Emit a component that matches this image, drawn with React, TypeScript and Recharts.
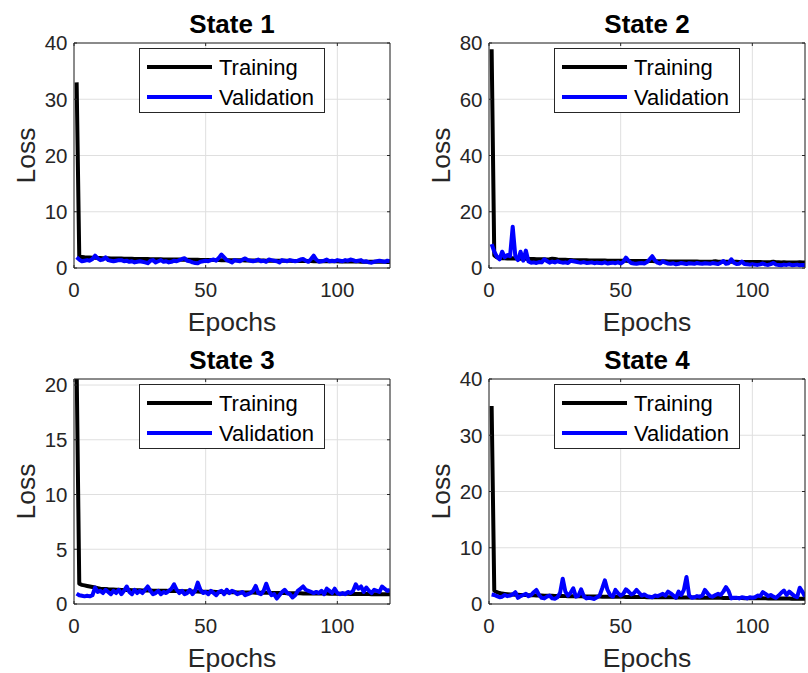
import React from 'react';
import { LineChart, Line, XAxis, YAxis, CartesianGrid, Legend } from 'recharts';

const EPOCH_TICKS = [0, 50, 100];
const TITLES = ['State 1', 'State 2', 'State 3', 'State 4'];
const Y_MAX = [40, 80, 20.55, 40];
const Y_TICKS_1 = [0, 10, 20, 30, 40];
const Y_TICKS_2 = [0, 20, 40, 60, 80];
const Y_TICKS_3 = [0, 5, 10, 15, 20];
const Y_TICKS_4 = [0, 10, 20, 30, 40];

const TRAIN_1 = [
  33, 2.0, 1.95, 1.9, 1.88, 1.85, 1.82, 1.8, 1.78, 1.76,
  1.75, 1.74, 1.72, 1.71, 1.7, 1.69, 1.68, 1.67, 1.66, 1.65,
  1.64, 1.63, 1.62, 1.61, 1.6, 1.6, 1.59, 1.58, 1.57, 1.56,
  1.55, 1.55, 1.54, 1.53, 1.52, 1.52, 1.51, 1.5, 1.5, 1.49,
  1.48, 1.48, 1.47, 1.46, 1.46, 1.45, 1.45, 1.44, 1.43, 1.43,
  1.42, 1.42, 1.41, 1.41, 1.4, 1.4, 1.39, 1.39, 1.38, 1.38,
  1.37, 1.37, 1.36, 1.36, 1.35, 1.35, 1.34, 1.34, 1.33, 1.33,
  1.32, 1.32, 1.31, 1.31, 1.3, 1.3, 1.29, 1.29, 1.28, 1.28,
  1.27, 1.27, 1.26, 1.26, 1.25, 1.25, 1.24, 1.24, 1.23, 1.23,
  1.22, 1.22, 1.21, 1.21, 1.2, 1.2, 1.19, 1.19, 1.18, 1.18,
  1.17, 1.17, 1.16, 1.16, 1.15, 1.15, 1.14, 1.14, 1.13, 1.13,
  1.12, 1.12, 1.11, 1.11, 1.1, 1.1, 1.09, 1.09, 1.08, 1.08,
];
const VAL_1 = [
  1.9, 1.5, 1.2, 1.3, 1.4, 1.3, 1.6, 2.2, 1.7, 1.4,
  1.5, 1.9, 1.4, 1.3, 1.2, 1.3, 1.4, 1.4, 1.2, 1.3,
  1.1, 1.2, 1.0, 1.1, 1.2, 1.1, 1.0, 0.85, 1.3, 1.4,
  1.0, 1.2, 1.4, 1.1, 1.2, 1.0, 1.1, 1.3, 1.2, 1.4,
  1.6, 1.75, 1.3, 1.2, 1.0, 0.9, 0.85, 1.1, 1.2, 1.3,
  1.2, 1.4, 1.5, 1.3, 1.8, 2.4, 1.9, 1.4, 1.2, 1.0,
  1.4, 1.3, 1.2, 1.5, 1.7, 1.4, 1.3, 1.2, 1.3, 1.5,
  1.2, 1.3, 1.1, 1.5, 1.4, 1.3, 1.2, 1.0, 1.4, 1.3,
  1.2, 1.4, 1.3, 1.2, 1.3, 1.5, 1.6, 1.3, 1.1, 1.6,
  2.2, 1.5, 1.1, 1.2, 1.3, 1.5, 1.2, 1.3, 1.2, 1.4,
  1.3, 1.2, 1.4, 1.3, 1.5, 1.4, 1.2, 1.3, 1.4, 1.1,
  1.2, 1.0, 0.95, 1.1, 1.2, 1.3, 1.2, 1.1, 1.3, 1.2,
];

const TRAIN_2 = [
  77.8, 4.5, 3.8, 3.6, 3.5, 3.5, 3.4, 3.4, 3.5, 3.4,
  3.3, 3.3, 3.4, 3.3, 3.2, 3.2, 3.2, 3.1, 3.1, 3.1,
  3.1, 3.0, 3.1, 3.3, 3.2, 3.0, 2.9, 2.9, 2.9, 2.85,
  2.85, 2.8, 2.8, 2.8, 2.75, 2.75, 2.75, 2.7, 2.7, 2.7,
  2.7, 2.65, 2.65, 2.65, 2.6, 2.6, 2.6, 2.6, 2.55, 2.55,
  2.55, 2.55, 2.5, 2.5, 2.5, 2.5, 2.5, 2.45, 2.45, 2.45,
  2.45, 2.45, 2.4, 2.4, 2.4, 2.4, 2.4, 2.35, 2.35, 2.35,
  2.35, 2.35, 2.35, 2.3, 2.3, 2.3, 2.3, 2.3, 2.3, 2.25,
  2.25, 2.25, 2.25, 2.25, 2.3, 2.4, 2.25, 2.2, 2.2, 2.2,
  2.2, 2.2, 2.2, 2.2, 2.15, 2.15, 2.15, 2.15, 2.1, 2.1,
  2.1, 2.1, 2.1, 2.05, 2.05, 2.05, 2.1, 2.2, 2.05, 2.05,
  2.0, 2.05, 2.0, 2.0, 1.95, 2.0, 2.0, 2.05, 2.0, 2.0,
];
const VAL_2 = [
  8.5, 5.8, 4.0, 3.1, 5.8, 3.8, 4.6, 4.2, 14.7, 4.2,
  2.8, 5.8, 2.6, 6.2, 2.3, 1.9, 2.0, 1.8, 2.1, 2.0,
  3.1, 2.5, 1.9, 2.3, 2.0, 2.4, 2.1, 1.9, 2.0, 1.8,
  2.6, 2.4, 2.2, 2.0, 1.9, 2.1, 1.8, 1.9, 2.0, 1.7,
  1.9, 1.8, 1.7, 2.0, 1.6, 1.8, 1.9, 1.7, 2.0, 1.6,
  2.2, 3.7, 2.6, 1.8, 1.6, 1.5, 1.7, 1.8, 1.6, 2.1,
  3.1, 4.2, 2.7, 1.9, 1.6, 2.4, 1.9, 1.6, 1.5, 1.7,
  1.3, 1.5, 1.8, 1.6, 1.4, 1.7, 1.6, 1.5, 1.8, 1.6,
  1.5, 1.7, 1.6, 1.5, 1.8, 1.6, 1.4, 1.9, 2.5, 1.5,
  1.7, 3.1, 1.9, 1.4, 1.5, 2.3, 1.4, 1.3, 1.2, 1.3,
  1.2, 1.1, 1.3, 1.6, 1.2, 1.1, 1.4, 1.8, 1.2, 1.1,
  1.0, 1.2, 1.1, 1.3, 1.0, 1.1, 1.2, 1.0, 1.1, 1.1,
];

const TRAIN_3 = [
  21.5, 1.85, 1.75, 1.7, 1.65, 1.6, 1.55, 1.5, 1.45, 1.4,
  1.38, 1.36, 1.34, 1.33, 1.32, 1.31, 1.3, 1.29, 1.28, 1.28,
  1.27, 1.26, 1.26, 1.25, 1.25, 1.24, 1.24, 1.23, 1.23, 1.22,
  1.22, 1.21, 1.21, 1.2, 1.2, 1.19, 1.19, 1.18, 1.18, 1.17,
  1.17, 1.16, 1.16, 1.15, 1.15, 1.14, 1.14, 1.13, 1.13, 1.12,
  1.12, 1.11, 1.11, 1.1, 1.1, 1.09, 1.09, 1.08, 1.08, 1.07,
  1.07, 1.06, 1.06, 1.05, 1.05, 1.04, 1.04, 1.04, 1.03, 1.03,
  1.03, 1.02, 1.02, 1.02, 1.01, 1.01, 1.01, 1.0, 1.0, 1.0,
  0.99, 0.99, 0.99, 0.98, 0.98, 0.98, 0.97, 0.97, 0.97, 0.96,
  0.96, 0.96, 0.95, 0.95, 0.95, 0.95, 0.94, 0.94, 0.94, 0.94,
  0.93, 0.93, 0.93, 0.93, 0.92, 0.92, 0.92, 0.92, 0.91, 0.91,
  0.91, 0.91, 0.9, 0.9, 0.9, 0.9, 0.9, 0.89, 0.89, 0.89,
];
const VAL_3 = [
  0.95, 0.8, 0.75, 0.7, 0.75, 0.7, 0.8, 1.5, 1.1, 1.2,
  1.0, 1.3, 1.1, 0.9, 1.2, 1.0, 1.3, 0.9, 1.2, 1.6,
  1.1, 0.9, 1.3, 1.0, 1.2, 1.0, 1.3, 1.6, 1.2, 0.9,
  1.0, 1.2, 0.9, 1.1, 1.0, 1.2, 1.4, 1.8, 1.3, 1.0,
  1.2, 0.9, 1.0, 1.3, 0.9, 1.2, 1.95, 1.3, 1.0, 1.1,
  0.9, 1.2, 1.0, 0.8, 1.1, 1.2, 0.9, 1.3, 1.0, 1.2,
  1.1, 0.9, 1.0, 1.1, 0.8, 0.9, 1.0, 1.2, 1.65, 1.0,
  0.9, 1.2, 1.85, 1.2, 0.8, 0.9, 0.5, 0.8, 1.1, 1.3,
  1.0, 0.9, 0.6, 0.8, 1.2, 1.4, 1.6, 1.3, 1.2, 1.1,
  1.0, 1.1, 1.0, 1.2, 0.9, 1.4, 1.2, 1.0, 1.4, 1.0,
  0.9, 1.0, 0.9, 1.1, 1.0, 1.2, 1.8, 1.4, 1.6, 1.1,
  1.5, 1.2, 1.0, 1.3, 1.2, 1.1, 1.6, 1.4, 1.2, 1.3,
];

const TRAIN_4 = [
  35.2, 2.4, 2.1, 1.95, 1.85, 1.8, 1.75, 1.7, 1.7, 1.65,
  1.65, 1.6, 1.6, 1.58, 1.56, 1.55, 1.54, 1.52, 1.5, 1.5,
  1.48, 1.47, 1.46, 1.45, 1.44, 1.43, 1.42, 1.41, 1.4, 1.4,
  1.39, 1.38, 1.37, 1.37, 1.36, 1.35, 1.35, 1.34, 1.33, 1.33,
  1.32, 1.32, 1.31, 1.3, 1.3, 1.29, 1.29, 1.28, 1.28, 1.27,
  1.27, 1.26, 1.26, 1.25, 1.25, 1.24, 1.24, 1.23, 1.23, 1.22,
  1.22, 1.21, 1.21, 1.2, 1.2, 1.2, 1.19, 1.19, 1.18, 1.18,
  1.17, 1.17, 1.16, 1.16, 1.15, 1.15, 1.14, 1.14, 1.13, 1.13,
  1.12, 1.12, 1.11, 1.11, 1.1, 1.1, 1.09, 1.09, 1.08, 1.08,
  1.07, 1.07, 1.06, 1.06, 1.05, 1.05, 1.04, 1.04, 1.03, 1.03,
  1.02, 1.02, 1.01, 1.01, 1.0, 1.0, 0.99, 0.99, 0.98, 0.98,
  0.97, 0.97, 0.96, 0.96, 0.95, 0.95, 0.94, 0.94, 0.93, 0.93,
];
const VAL_4 = [
  1.7, 1.6, 1.4, 1.2, 1.3, 1.6, 1.4, 1.5, 1.7, 2.1,
  1.1, 1.4, 1.6, 1.8, 1.4, 1.6, 2.1, 2.5, 1.6, 1.1,
  1.0, 1.3, 1.5, 1.0, 0.95, 1.2, 2.0, 4.5, 2.2, 1.5,
  2.0, 2.8, 1.3, 1.5, 2.6, 1.4, 1.0, 1.1, 1.0, 0.9,
  1.2, 1.5, 2.8, 4.2, 2.5, 1.6, 1.3, 2.5, 1.9, 1.5,
  1.8, 2.6, 2.2, 1.7, 1.9, 2.5, 2.0, 1.5, 1.7, 1.4,
  1.3, 1.2, 1.5, 1.4, 1.6, 1.8, 1.5, 2.2, 1.9, 1.5,
  1.1, 2.2, 1.6, 2.5, 4.8, 1.5, 1.1, 1.2, 1.4, 1.3,
  1.5, 2.5, 1.9, 1.4, 1.3, 1.6, 1.8, 1.6, 2.2, 3.0,
  2.3, 1.0, 1.1, 1.1, 1.0, 1.2, 1.1, 1.0, 1.2, 1.1,
  1.2, 1.5, 1.4, 2.1, 1.8, 1.4, 1.6, 1.3, 1.1, 1.5,
  2.0, 2.4, 1.6, 2.2, 1.8, 1.4, 1.2, 2.9, 2.2, 1.3,
];

const FONT = '"Liberation Sans", Arial, Helvetica, sans-serif';
const AXIS_COLOR = '#262626';
const GRID_COLOR = '#dfdfdf';

const PANEL_W = 404;
const PANEL_H = 336;
const PLOT_W = 316;
const PLOT_TOP = 43;
const PLOT_H = 225;

const BottomTick = (p: any) => (
  <g>
    <line x1={p.x} x2={p.x} y1={p.y} y2={p.y - 3} stroke={AXIS_COLOR} strokeWidth={1} />
    <text x={p.x} y={p.y + 29} textAnchor="middle" fontSize={20.5} fontFamily={FONT} fill={AXIS_COLOR}>
      {p.payload.value}
    </text>
  </g>
);
const TopTick = (p: any) => (
  <line x1={p.x} x2={p.x} y1={p.y} y2={p.y + 3} stroke={AXIS_COLOR} strokeWidth={1} />
);
const LeftTick = (p: any) => (
  <g>
    <line x1={p.x} x2={p.x + 3} y1={p.y} y2={p.y} stroke={AXIS_COLOR} strokeWidth={1} />
    <text x={p.x - 6.5} y={p.y + 7.3} textAnchor="end" fontSize={20.5} fontFamily={FONT} fill={AXIS_COLOR}>
      {p.payload.value}
    </text>
  </g>
);
const RightTick = (p: any) => (
  <line x1={p.x} x2={p.x - 3} y1={p.y} y2={p.y} stroke={AXIS_COLOR} strokeWidth={1} />
);

const LegendBox = (props: any) => {
  const items = props.payload || [];
  return (
    <svg width={186} height={65} style={{ display: 'block' }}>
      <rect x={0.5} y={0.5} width={185} height={64} fill="#ffffff" stroke={AXIS_COLOR} strokeWidth={1} />
      {items.map((it: any, i: number) => (
        <g key={i}>
          <line x1={8} x2={73} y1={19 + 30 * i} y2={19 + 30 * i} stroke={it.color} strokeWidth={4} />
          <text x={80} y={27 + 30 * i} fontSize={22} fontFamily={FONT} fill="#000000">
            {it.value}
          </text>
        </g>
      ))}
    </svg>
  );
};

type PanelProps = {
  title: string;
  train: number[];
  val: number[];
  yMax: number;
  yTicks: number[];
  left: number;
  top: number;
  plotLeft: number;
};

function Panel({ title, train, val, yMax, yTicks, left, top, plotLeft }: PanelProps) {
  const rows = train.map((t, i) => ({ epoch: i + 1, train: t, val: val[i] }));
  const rightSpace = PANEL_W - plotLeft - PLOT_W;
  const bottomSpace = PANEL_H - PLOT_TOP - PLOT_H;
  const legendLeft = plotLeft + PLOT_W / 2 - 93;

  const xLabel = (p: any) => {
    const vb = p.viewBox;
    return (
      <text x={vb.x + vb.width / 2} y={vb.y + 62.5} textAnchor="middle" fontSize={26.5} fontFamily={FONT} fill={AXIS_COLOR}>
        Epochs
      </text>
    );
  };
  const yLabel = (p: any) => {
    const vb = p.viewBox;
    const cx = vb.x + vb.width - 39;
    const cy = vb.y + vb.height / 2;
    return (
      <text x={cx} y={cy} transform={`rotate(-90, ${cx}, ${cy})`} textAnchor="middle" fontSize={26.5} fontFamily={FONT} fill={AXIS_COLOR}>
        Loss
      </text>
    );
  };
  const titleLabel = (p: any) => {
    const vb = p.viewBox;
    return (
      <text x={vb.x + vb.width / 2} y={vb.y + vb.height - 9.7} textAnchor="middle" fontSize={26} fontWeight="bold" fontFamily={FONT} fill="#000000">
        {title}
      </text>
    );
  };

  return (
    <div style={{ position: 'absolute', left, top, width: PANEL_W, height: PANEL_H }}>
      <LineChart
        width={PANEL_W}
        height={PANEL_H}
        data={rows}
        margin={{ top: PLOT_TOP - 1, right: rightSpace - 1, bottom: 0, left: 0 }}
      >
        <CartesianGrid stroke={GRID_COLOR} strokeWidth={1} />
        <XAxis
          dataKey="epoch"
          type="number"
          domain={[0, 120]}
          ticks={EPOCH_TICKS}
          interval={0}
          allowDataOverflow
          height={bottomSpace}
          axisLine={{ stroke: AXIS_COLOR, strokeWidth: 1 }}
          tickLine={false}
          tickSize={0}
          tickMargin={0}
          tick={BottomTick}
          label={xLabel}
        />
        <XAxis
          xAxisId="top"
          orientation="top"
          dataKey="epoch"
          type="number"
          domain={[0, 120]}
          ticks={EPOCH_TICKS}
          interval={0}
          height={1}
          axisLine={{ stroke: AXIS_COLOR, strokeWidth: 1 }}
          tickLine={false}
          tickSize={0}
          tickMargin={0}
          tick={TopTick}
          label={titleLabel}
        />
        <YAxis
          type="number"
          domain={[0, yMax]}
          ticks={yTicks}
          interval={0}
          allowDataOverflow
          width={plotLeft}
          axisLine={{ stroke: AXIS_COLOR, strokeWidth: 1 }}
          tickLine={false}
          tickSize={0}
          tickMargin={0}
          tick={LeftTick}
          label={yLabel}
        />
        <YAxis
          yAxisId="right"
          orientation="right"
          type="number"
          domain={[0, yMax]}
          ticks={yTicks}
          interval={0}
          allowDataOverflow
          width={1}
          axisLine={{ stroke: AXIS_COLOR, strokeWidth: 1 }}
          tickLine={false}
          tickSize={0}
          tickMargin={0}
          tick={RightTick}
        />
        <Legend
          layout="vertical"
          align="center"
          verticalAlign="middle"
          wrapperStyle={{ left: legendLeft, top: PLOT_TOP + 5, width: 186, height: 65 }}
          content={LegendBox}
        />
        <Line
          dataKey="train"
          name="Training"
          stroke="#000000"
          strokeWidth={4}
          strokeLinejoin="round"
          dot={false}
          activeDot={false}
          isAnimationActive={false}
        />
        <Line
          dataKey="val"
          name="Validation"
          stroke="#0000ff"
          strokeWidth={4}
          strokeLinejoin="round"
          dot={false}
          activeDot={false}
          isAnimationActive={false}
        />
      </LineChart>
    </div>
  );
}

export default function App() {
  return (
    <div style={{ position: 'absolute', left: 0, top: 0, width: 808, height: 673, background: '#ffffff', overflow: 'hidden' }}>
      <Panel title={TITLES[0]} train={TRAIN_1} val={VAL_1} yMax={Y_MAX[0]} yTicks={Y_TICKS_1} left={0} top={0} plotLeft={74} />
      <Panel title={TITLES[1]} train={TRAIN_2} val={VAL_2} yMax={Y_MAX[1]} yTicks={Y_TICKS_2} left={404} top={0} plotLeft={85} />
      <Panel title={TITLES[2]} train={TRAIN_3} val={VAL_3} yMax={Y_MAX[2]} yTicks={Y_TICKS_3} left={0} top={336} plotLeft={74} />
      <Panel title={TITLES[3]} train={TRAIN_4} val={VAL_4} yMax={Y_MAX[3]} yTicks={Y_TICKS_4} left={404} top={336} plotLeft={85} />
    </div>
  );
}
